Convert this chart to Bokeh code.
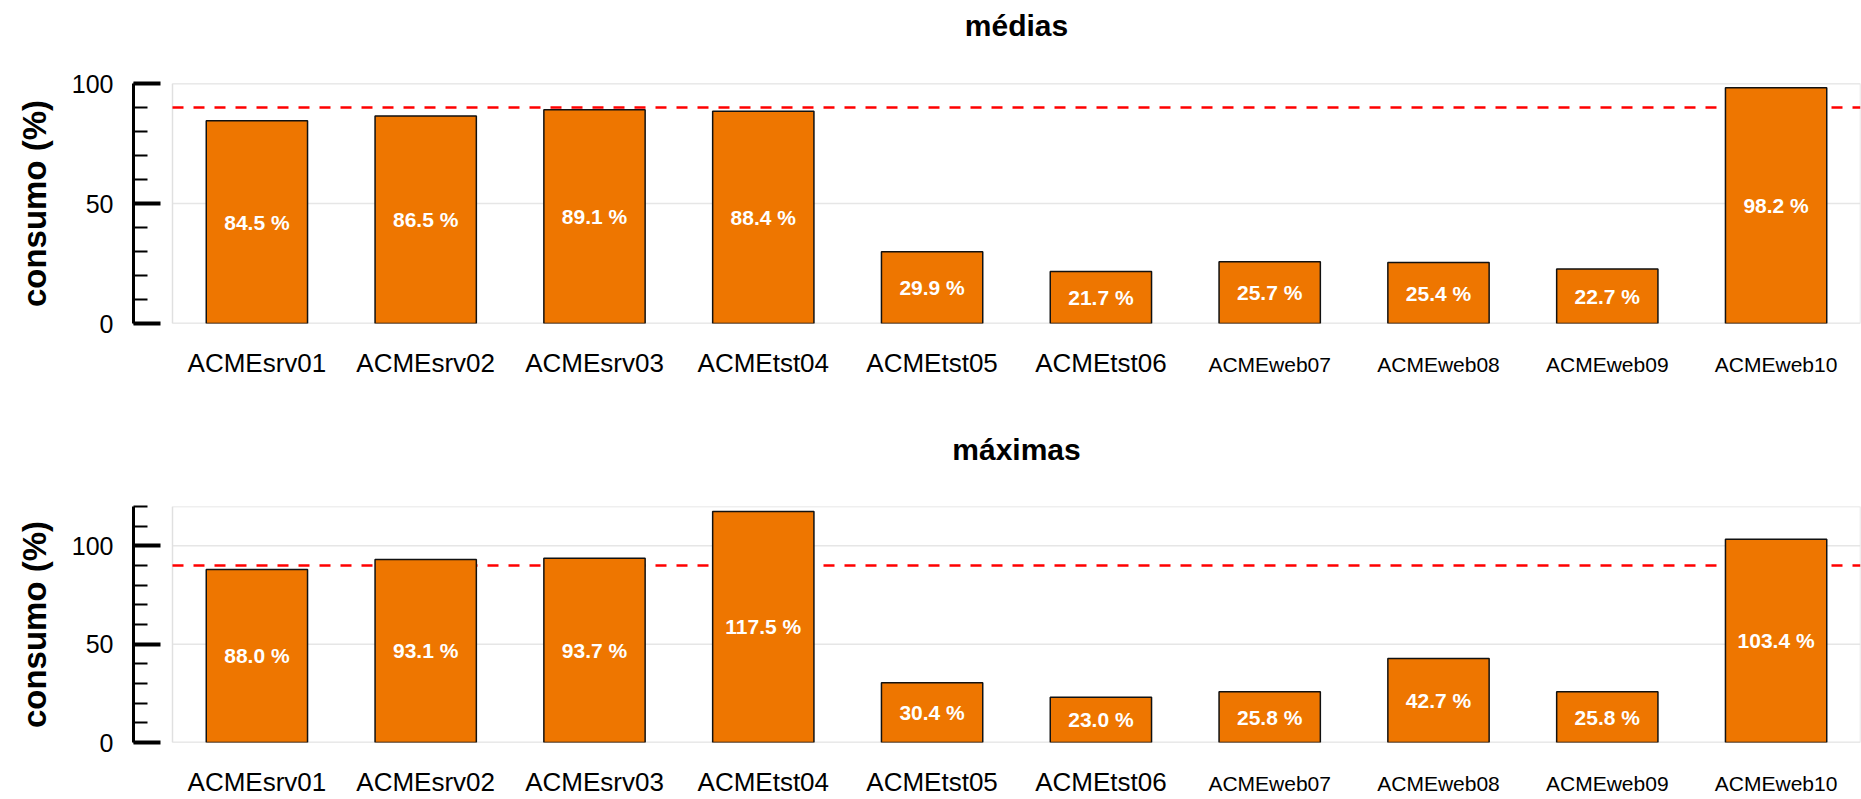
from bokeh.plotting import figure
from bokeh.models import Range1d, LinearAxis, FixedTicker, ColumnDataSource
from bokeh.layouts import column
from bokeh.core.properties import value
from bokeh.embed import file_html
from bokeh.resources import INLINE

# ---------------- data ----------------
servers = ["ACMEsrv01", "ACMEsrv02", "ACMEsrv03", "ACMEtst04", "ACMEtst05",
           "ACMEtst06", "ACMEweb07", "ACMEweb08", "ACMEweb09", "ACMEweb10"]
medias = [84.5, 86.5, 89.1, 88.4, 29.9, 21.7, 25.7, 25.4, 22.7, 98.2]
maximas = [88.0, 93.1, 93.7, 117.5, 30.4, 23.0, 25.8, 42.7, 25.8, 103.4]
small_label_servers = ["ACMEweb07", "ACMEweb08", "ACMEweb09", "ACMEweb10"]
threshold = 90
titles = ["médias", "máximas"]
y_label = "consumo (%)"
top_major = [0, 50, 100]
top_minor = [0, 10, 20, 30, 40, 50, 60, 70, 80, 90, 100]
bottom_major = [0, 50, 100]
bottom_minor = [0, 10, 20, 30, 40, 50, 60, 70, 80, 90, 100, 110, 120]
top_end = 100
bottom_end = 120

# ---------------- styling / layout constants ----------------
FONT = "Liberation Sans"
BAR = "#EE7600"
GRID = "#E6E6E6"
W = 1861
AXIS_GAP_PX = 39        # gap between y-axis line and plot box
DATA_W_PX = 1688        # width of plot box
FRAME_LEFT = 133
PAD_TOP = 15

n = len(servers)
positions = list(range(n))
big_idx = [i for i, s in enumerate(servers) if s not in small_label_servers]
small_idx = [i for i, s in enumerate(servers) if s in small_label_servers]
x_lo, x_hi = -0.5, n - 0.5
x_range = Range1d(x_lo - AXIS_GAP_PX * n / DATA_W_PX, x_hi)


def make_title(text, height, center_px):
    t = figure(x_range=x_range, y_range=Range1d(0, height), width=W, height=height,
               output_backend="svg", toolbar_location=None,
               min_border_left=FRAME_LEFT, min_border_right=1, min_border_top=0,
               min_border_bottom=0, x_axis_location=None, y_axis_location=None)
    t.outline_line_color = None
    t.background_fill_color = "white"
    t.border_fill_color = "white"
    for g in t.grid:
        g.grid_line_color = None
    t.text(x=[(x_lo + x_hi) / 2], y=[height - center_px], text=[text],
           text_align="center", text_baseline="middle", text_color="black",
           text_font=value(FONT), text_font_size="30px", text_font_style="bold")
    return t


def make_panel(vals, y_end, major, minor, height, mbb):
    p = figure(x_range=x_range, y_range=Range1d(0, y_end),
               width=W, height=height, output_backend="svg", toolbar_location=None,
               min_border_left=FRAME_LEFT, min_border_right=1, min_border_top=PAD_TOP,
               min_border_bottom=mbb, y_axis_location=None)
    p.background_fill_color = "white"
    p.border_fill_color = "white"
    p.outline_line_color = None
    for g in p.grid:
        g.grid_line_color = None

    # horizontal grid lines and the light box around the bars
    p.segment(x0=[x_lo] * len(major), x1=[x_hi] * len(major), y0=major, y1=major,
              line_color=GRID, line_width=1.5)
    p.quad(left=[x_lo], right=[x_hi], bottom=[0], top=[y_end], fill_color=None,
           line_color="#E0E0E0", line_width=1.5)

    # threshold line
    p.segment(x0=[x_lo], x1=[x_hi], y0=[threshold], y1=[threshold],
              line_color="#FF0000", line_dash="11 10", line_width=2.5)

    # x axis: large labels (closest to frame)
    xa = p.xaxis[0]
    xa.ticker = FixedTicker(ticks=big_idx)
    xa.major_label_overrides = {i: servers[i] for i in big_idx}
    xa.axis_line_color = None
    xa.major_tick_line_color = None
    xa.minor_tick_line_color = None
    xa.major_tick_out = 0
    xa.major_tick_in = 0
    xa.major_label_text_font = FONT
    xa.major_label_text_font_size = "26px"
    xa.major_label_text_color = "black"
    xa.major_label_standoff = 24

    # x axis: smaller labels, pulled up onto the same line
    xb = LinearAxis(ticker=FixedTicker(ticks=small_idx),
                    major_label_overrides={i: servers[i] for i in small_idx},
                    axis_line_color=None, major_tick_line_color=None,
                    minor_tick_line_color=None, major_tick_out=0, major_tick_in=0,
                    major_label_text_font=FONT, major_label_text_font_size="21px",
                    major_label_text_color="black", major_label_standoff=-28)
    p.add_layout(xb, "below")

    # y axis
    ya = LinearAxis(ticker=FixedTicker(ticks=major, minor_ticks=minor),
                    axis_label=y_label,
                    axis_line_width=3, axis_line_color="black",
                    major_tick_in=27, major_tick_out=0, major_tick_line_width=4,
                    major_tick_line_color="black",
                    minor_tick_in=14, minor_tick_out=0, minor_tick_line_width=2,
                    minor_tick_line_color="black",
                    major_label_standoff=20,
                    major_label_text_font=FONT, major_label_text_font_size="25px",
                    major_label_text_color="black",
                    axis_label_text_font=FONT, axis_label_text_font_size="33px",
                    axis_label_text_font_style="bold", axis_label_text_color="black",
                    axis_label_standoff=16)
    p.add_layout(ya, "left")

    src = ColumnDataSource(dict(x=positions, top=vals, mid=[v / 2 for v in vals],
                                lab=[f"{v:.1f} %" for v in vals]))
    p.vbar(x="x", top="top", width=0.6, source=src, fill_color=BAR,
           line_color="#111111", line_width=1.5)
    p.text(x="x", y="mid", text="lab", source=src, text_align="center",
           text_baseline="middle", text_color="white", text_font=value(FONT),
           text_font_size="21px", text_font_style="bold")
    return p


# page rows: title1 | panel1 | title2 | panel2  (total 799 px)
T1_H = 83 - PAD_TOP            # title row above top box (box top at 83)
P1_H = 385 - T1_H              # ends at y=385
T2_H = (506 - PAD_TOP) - 385   # bottom box top at 506
P2_H = 799 - 385 - T2_H

t1 = make_title(titles[0], T1_H, 25)
p1 = make_panel(medias, top_end, top_major, top_minor, P1_H,
                mbb=P1_H - PAD_TOP - 240)
t2 = make_title(titles[1], T2_H, 449 - 385)
p2 = make_panel(maximas, bottom_end, bottom_major, bottom_minor, P2_H,
                mbb=P2_H - PAD_TOP - 240)

layout = column(t1, p1, t2, p2, spacing=0)
open("out.html", "w").write(file_html(layout, INLINE))
